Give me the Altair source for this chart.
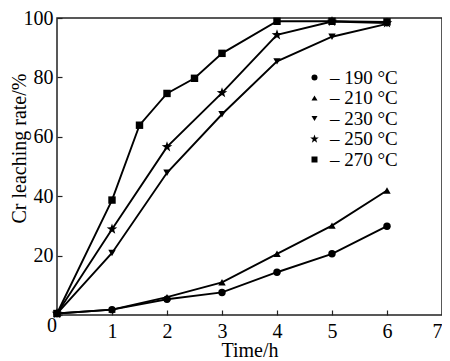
import altair as alt
import pandas as pd

FONT = "Liberation Serif"

temps = ["190", "210", "230", "250", "270"]
times_std = [0, 1, 2, 3, 4, 5, 6]
times_270 = [0, 1, 1.5, 2, 2.5, 3, 4, 5, 6]
rate_190 = [0.5, 1.8, 5.3, 7.6, 14.4, 20.6, 29.9]
rate_210 = [0.5, 1.8, 6.0, 11.0, 20.6, 30.1, 41.9]
rate_230 = [0.5, 20.9, 47.9, 67.6, 85.4, 93.7, 98.0]
rate_250 = [0.5, 28.9, 56.6, 74.8, 94.3, 98.8, 98.3]
rate_270 = [0.5, 38.7, 63.9, 74.6, 79.7, 88.1, 98.9, 98.9, 98.7]

series = {
    "190": (times_std, rate_190),
    "210": (times_std, rate_210),
    "230": (times_std, rate_230),
    "250": (times_std, rate_250),
    "270": (times_270, rate_270),
}
rows = []
for t, (xs, ys) in series.items():
    for x, y in zip(xs, ys):
        rows.append({"temp": t, "time": x, "rate": y})
df = pd.DataFrame(rows)

STAR = ("M0,-1.5L0.35,-0.49L1.43,-0.46L0.57,0.19L0.88,1.21L0,0.6"
        "L-0.88,1.21L-0.57,0.19L-1.43,-0.46L-0.35,-0.49Z")
shapes = ["circle", "triangle-up", "triangle-down", STAR, "square"]

x_enc = alt.X(
    "time:Q",
    scale=alt.Scale(domain=[0, 7], nice=False),
    axis=alt.Axis(
        title="Time/h", values=[0, 1, 2, 3, 4, 5, 6, 7], format="d",
        labelExpr="datum.value == 0 ? '' : datum.label",
        offset=-5, tickSize=5, domain=False, grid=False,
        labelPadding=6, titleY=46, titleBaseline="alphabetic",
    ),
)
y_enc = alt.Y(
    "rate:Q",
    scale=alt.Scale(domain=[0, 100], nice=False),
    axis=alt.Axis(
        title="Cr leaching rate/%", values=[0, 20, 40, 60, 80, 100], format="d",
        labelExpr="datum.value == 0 ? '' : datum.label",
        offset=-5, tickSize=5, domain=False, grid=False,
        labelPadding=4, titleX=-53, titleY=130, titleBaseline="top",
        titleAlign="center", titleAngle=-90,
    ),
)

base = alt.Chart(df)

lines = base.mark_line(color="black", strokeWidth=1.9).encode(
    x=x_enc, y=y_enc, detail="temp:N"
)
points = base.mark_point(filled=True, color="black", opacity=1, size=55).encode(
    x="time:Q",
    y="rate:Q",
    shape=alt.Shape(
        "temp:N",
        scale=alt.Scale(domain=temps, range=shapes),
        legend=alt.Legend(
            title=None, orient="none", legendX=248, legendY=50,
            labelExpr="'\u2013 ' + datum.label + ' \u00b0C'",
            symbolSize=36, symbolFillColor="black", symbolStrokeColor="black",
            symbolStrokeWidth=0, labelOffset=6, rowPadding=0.5,
            labelFontSize=19, labelFont=FONT, labelColor="black",
            padding=0,
        ),
    ),
)
zero = alt.Chart(pd.DataFrame({"a": [0]})).mark_text(
    text="0", font=FONT, fontSize=20, color="black", dx=-5, dy=11
).encode(x=alt.datum(0), y=alt.datum(0))

chart = alt.layer(lines, points, zero).properties(
    width=385, height=297,
    autosize=alt.AutoSizeParams(type="none"),
    padding={"left": 49, "top": 10, "right": 0, "bottom": 46},
).configure_view(
    stroke="#222", strokeWidth=1.5
).configure_axis(
    labelFont=FONT, titleFont=FONT, labelFontSize=20, titleFontSize=20,
    labelColor="black", titleColor="black", tickColor="#222",
    titleFontWeight="normal", tickWidth=1.2,
)

chart.save("out.html", embed_options={"renderer": "svg", "actions": False})
